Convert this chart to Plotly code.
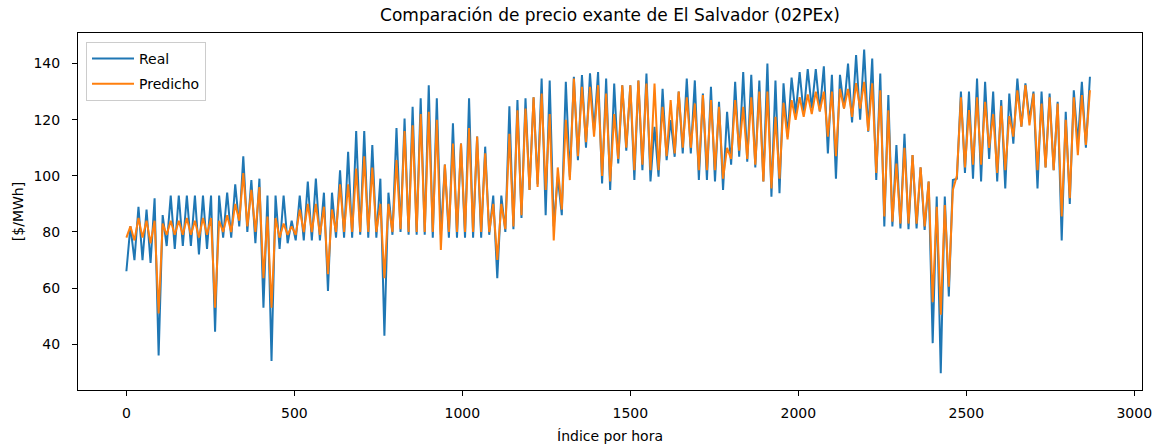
import plotly.graph_objects as go

real = [
    66, 82, 70, 89, 70, 88, 69, 92, 36, 86, 75, 93, 74, 93, 75, 93, 75, 93, 72, 93,
    74, 93, 44.5, 93, 78, 94, 78, 97, 82, 107, 80, 98.5, 76, 99, 53, 93, 34, 93, 74, 93,
    76, 84, 77, 93, 77, 98, 77, 99, 77, 94, 59, 94, 78, 102, 78, 108.6, 78, 116, 79, 116,
    78, 111, 78, 99, 43, 94, 79, 117, 80, 120.4, 79, 124.6, 79, 127.6, 79, 132.3, 78, 127.6, 79, 104,
    78, 118.7, 78, 111.5, 78, 127.6, 78, 114, 78, 110.4, 79, 93, 63.5, 93, 80, 124.8, 81, 127, 85, 127.6,
    95, 128, 97, 134.7, 86, 134, 82, 99.7, 86, 133.5, 99.7, 135.3, 105.6, 135.9, 110, 136.5, 116, 137, 97.3, 134.7,
    95, 132.9, 104.4, 132.3, 109, 132.3, 98.5, 134, 102, 136.5, 98, 117.5, 99.7, 131, 105.6, 119.9, 106.8, 130, 108, 134.7,
    108, 134, 98.5, 129.3, 98.5, 131.7, 98, 126.4, 95, 122.8, 104, 133.5, 106.8, 137, 105, 136, 103, 134, 98, 140,
    92.6, 134, 93.8, 133, 114, 135, 122, 137, 122, 138, 124, 138, 123, 139, 108, 136, 99, 136, 124, 140,
    119, 143, 120, 145, 115.7, 141.8, 98.5, 136.5, 82, 128.8, 82, 111, 81.3, 115, 81, 107.4, 81.3, 103, 80.7, 98,
    40.4, 92.6, 29.7, 92.6, 57, 98.5, 99, 130, 101, 130, 99, 134.7, 98, 133.5, 106, 130, 98, 127, 95.5, 129.3,
    111.5, 134.7, 117.5, 133, 120, 130, 95.5, 130, 103, 129.3, 102, 126.4, 77, 122.8, 90, 130.5, 111.5, 133.5, 110, 135.3,
]

predicho = [
    78, 82, 77, 85, 78, 84, 76, 84, 51, 83, 79, 84, 79, 84, 79, 85, 79, 84, 78, 85,
    79, 85, 53, 84, 80, 86, 80, 90, 84, 101, 82, 95, 80, 96, 63.5, 85.5, 53, 85, 78, 83,
    79, 82, 79, 88, 80, 90, 80, 90, 79, 89, 65, 88, 80, 97, 80, 97, 80, 102.6, 80, 107,
    80, 103, 80, 90, 63.5, 90, 80, 105.6, 81, 116, 80, 118, 80, 122, 80, 122.8, 80, 120, 73.6, 104,
    80, 111.5, 80, 111.5, 80, 117, 80, 114, 80, 108, 80, 90, 70, 90, 81, 115, 82, 123.4, 86, 124,
    95, 128, 96, 129.3, 95, 122, 77, 103, 88, 120, 98.5, 134.7, 107, 131.7, 112, 131.7, 114, 132.3, 100, 129.3,
    98, 122, 106, 132.3, 110, 132.3, 102, 134, 104, 132.9, 102, 132.9, 102, 124.6, 107, 127, 108, 130, 110, 128,
    110, 125.8, 102, 128.8, 102, 127, 102, 124.6, 99, 110, 106, 127, 109, 124.6, 106, 128, 104, 130, 98, 130,
    95.5, 121, 99, 126, 113, 127, 120, 128, 121, 129, 122, 130, 123, 130, 114, 130, 107, 131, 124, 131,
    121, 133, 124, 133.5, 116, 133, 101, 130.5, 85.5, 123.4, 83.7, 104.4, 83, 110, 83, 107.4, 83, 103, 82, 98,
    55, 89, 50.5, 89.6, 60.5, 95, 100, 128, 103, 123.4, 104, 128, 104, 126.4, 110, 122, 101, 125, 102, 121.3,
    114, 130.5, 117.5, 132.3, 118, 129.3, 102, 125.8, 103, 128, 102, 125.8, 85.5, 120, 92, 128, 107.4, 128.8, 111, 130.5,
]

hora = [12 * k for k in range(len(real))]

fig = go.Figure()
fig.add_trace(go.Scatter(x=hora, y=real, mode="lines", name="Real", legendgroup="a",
                         line=dict(color="#1f77b4", width=2)))
fig.add_trace(go.Scatter(x=hora, y=predicho, mode="lines", name="Predicho", legendgroup="b",
                         line=dict(color="#ff7f0e", width=2)))

W, H = 1156, 444
L, R, T, B = 78, 14, 33, 54
pw, ph = W - L - R, H - T - B

axis_common = dict(showline=True, mirror=True, linecolor="black", linewidth=1,
                   showgrid=False, zeroline=False, ticks="outside", ticklen=5,
                   tickcolor="black", automargin=False,
                   tickfont=dict(size=14, color="black"))

fig.update_layout(
    width=W, height=H,
    margin=dict(l=L, r=R, t=T, b=B, pad=0, autoexpand=False),
    paper_bgcolor="white", plot_bgcolor="white",
    font=dict(family="DejaVu Sans", size=14, color="black"),
    title=dict(text="Comparación de precio exante de El Salvador (02PEx)",
               x=(L + pw / 2) / W, xanchor="center", xref="container",
               y=1 - 15 / H, yanchor="middle", yref="container",
               font=dict(size=17, color="black")),
    xaxis=dict(range=[-144, 3023], tickmode="linear", tick0=0, dtick=500,
               ticklabelstandoff=5,
               title=dict(text="Índice por hora", standoff=13, font=dict(size=14)),
               **axis_common),
    yaxis=dict(range=[23.7, 150.9], tickmode="linear", tick0=40, dtick=20,
               ticklabelstandoff=9,
               title=dict(text="[$/MWh]", standoff=6, font=dict(size=14)),
               **axis_common),
    legend=dict(x=(86 - L) / pw, y=1 - (42 - T) / ph, xanchor="left", yanchor="top",
                bgcolor="rgba(255,255,255,0.8)", bordercolor="#cccccc", borderwidth=1,
                itemwidth=42, tracegroupgap=4,
                font=dict(size=14, color="black")),
    showlegend=True,
)

fig.write_html("out.html")
